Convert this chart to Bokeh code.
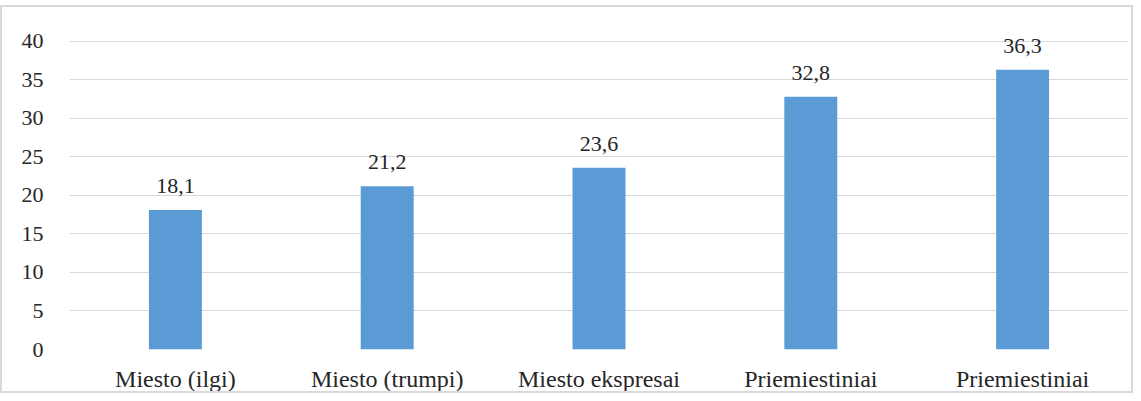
from bokeh.plotting import figure
from bokeh.models import ColumnDataSource, FixedTicker, Range1d, LabelSet
from bokeh.embed import file_html
from bokeh.resources import INLINE

categories = ["Miesto (ilgi)", "Miesto (trumpi)", "Miesto ekspresai", "Priemiestiniai", "Priemiestiniai"]
values = [18.1, 21.2, 23.6, 32.8, 36.3]
y_ticks = [0, 5, 10, 15, 20, 25, 30, 35, 40]

xs = list(range(1, len(categories) + 1))
labels = [f"{v:.1f}".replace(".", ",") for v in values]
src = ColumnDataSource(dict(x=xs, top=values, label=labels))

FONT = "Liberation Serif"
TXT = "#262626"

p = figure(width=1133, height=388, output_backend="svg", toolbar_location=None,
           x_range=Range1d(0.5, len(categories) + 0.5), y_range=Range1d(0, 44),
           min_border_left=67, min_border_right=7, min_border_top=3, min_border_bottom=46)
p.styles = {"border": "2px solid #D9D9D9", "box-sizing": "border-box",
            "position": "relative", "top": "5px"}
p.outline_line_color = None

p.vbar(x="x", top="top", width=0.25, source=src, fill_color="#5B9BD5", line_color=None)

p.add_layout(LabelSet(x="x", y="top", text="label", source=src, y_offset=17,
                      text_align="center", text_baseline="alphabetic",
                      text_font=FONT, text_font_size="22px", text_color=TXT))

p.xaxis.ticker = FixedTicker(ticks=xs)
p.xaxis.major_label_overrides = {x: c for x, c in zip(xs, categories)}
p.yaxis.ticker = FixedTicker(ticks=y_ticks)
for ax in (p.xaxis[0], p.yaxis[0]):
    ax.axis_line_color = None
    ax.major_tick_line_color = None
    ax.minor_tick_line_color = None
    ax.major_label_text_font = FONT
    ax.major_label_text_color = TXT
p.xaxis.major_label_text_font_size = "24px"
p.yaxis.major_label_text_font_size = "22px"
p.xaxis.major_label_standoff = 10
p.yaxis.major_label_standoff = 20

p.xgrid.grid_line_color = None
p.ygrid.grid_line_color = "#D9D9D9"
p.ygrid.grid_line_width = 1

open("out.html", "w").write(file_html(p, INLINE))
